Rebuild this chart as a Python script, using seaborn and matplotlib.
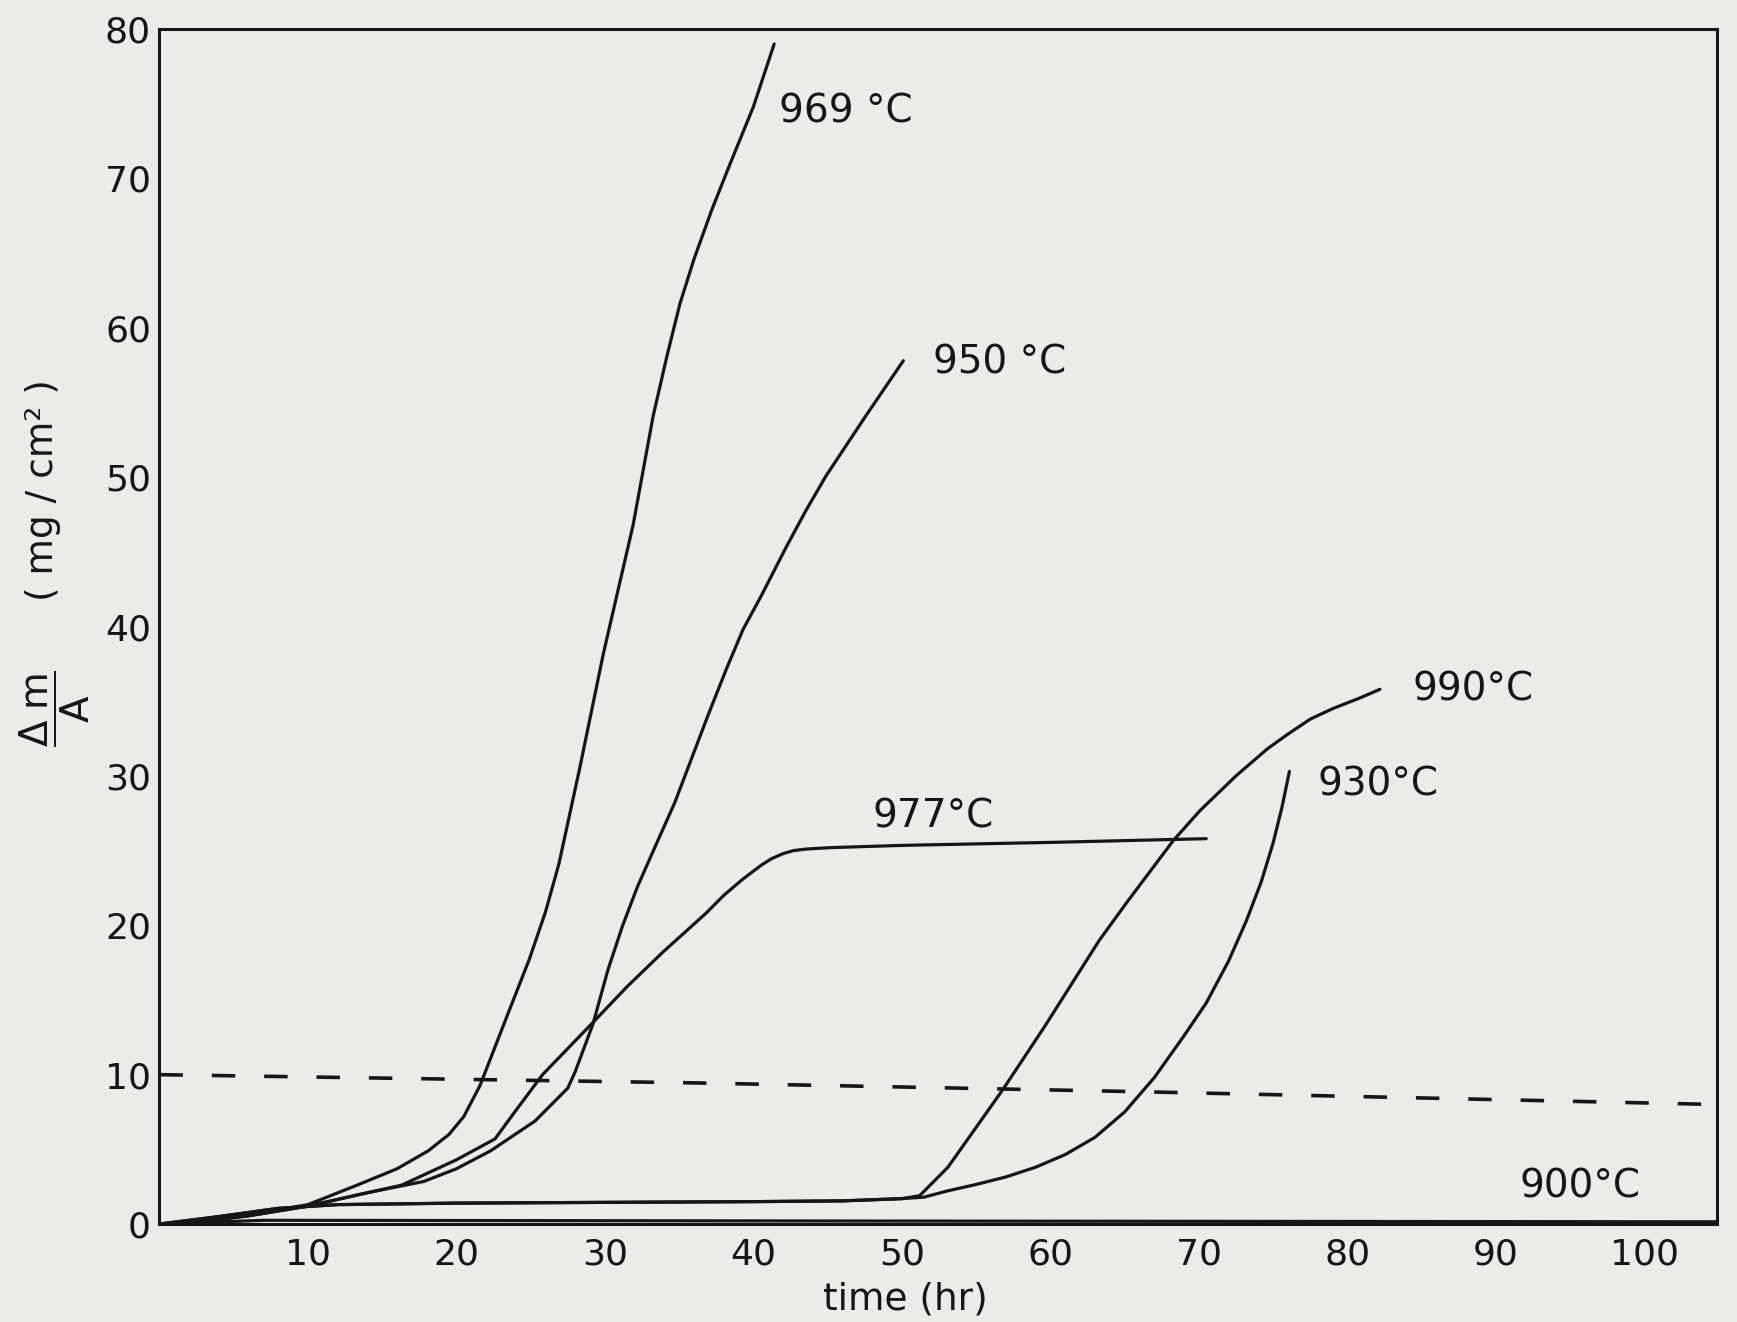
import matplotlib
matplotlib.use("Agg")
import matplotlib.pyplot as plt
import seaborn as sns

# weight gain curves
t_969 = [0, 3, 6, 10, 13.3, 16, 18.1, 19.5, 20.5, 21.6, 23.4, 24.9, 26, 26.9, 27.6, 28.3,
         29.9, 31.9, 33.25, 34.2, 35.05, 36, 37.2, 38.4, 40, 41.4]
dm_969 = [0, 0.2, 0.6, 1.3, 2.6, 3.7, 4.9, 6.0, 7.2, 9.3, 13.9, 17.7, 20.9, 24.1, 27.3, 30.5,
          38.2, 46.8, 54.1, 58.2, 61.6, 64.6, 67.9, 70.9, 74.8, 79]

t_950 = [0, 3, 6, 10, 14, 17.8, 20, 22.3, 25.3, 27.5, 28, 28.6, 29.2, 30.2, 31.2, 32.2, 33.4,
         34.7, 37, 38.2, 39.3, 40.5, 42.2, 43.5, 44.9, 47.5, 50.1]
dm_950 = [0, 0.2, 0.55, 1.2, 2.1, 2.85, 3.7, 4.9, 6.9, 9.1, 10.2, 11.8, 13.4, 17.0, 20.0, 22.6, 25.3,
          28.2, 34.2, 37.2, 39.8, 42.0, 45.3, 47.7, 50.1, 54.0, 57.8]

t_977 = [0, 3, 6, 10, 16.3, 20, 22.6, 24, 25.8, 29.2, 31.5, 33.9, 36.8, 38, 39.3, 40.5, 41.2, 42,
         42.7, 43.5, 45.2, 50, 60, 70.5]
dm_977 = [0, 0.2, 0.55, 1.2, 2.6, 4.3, 5.7, 7.6, 10, 13.5, 15.9, 18.2, 20.8, 22.0, 23.1, 24.0, 24.45, 24.8,
          25.0, 25.1, 25.2, 25.35, 25.55, 25.8]

t_990 = [0, 4, 8, 12, 20, 30, 40, 46, 50, 51.2, 53.1, 56.8, 59.6, 63.3, 65.2, 68.3, 70.1, 72.5,
         74.6, 76, 77.5, 79, 80.8, 82.2]
dm_990 = [0, 0.5, 1.05, 1.3, 1.4, 1.45, 1.5, 1.55, 1.7, 1.9, 3.8, 9.0, 13.2, 19.0, 21.6, 25.7, 27.7, 30.0,
          31.8, 32.8, 33.8, 34.5, 35.2, 35.8]

t_930 = [0, 4, 8, 12, 20, 30, 40, 46, 50, 51.5, 53, 55, 57, 59, 61, 63, 65, 67, 69, 70.5,
         72, 73.2, 74.2, 75, 75.6, 76.1]
dm_930 = [0, 0.5, 1.05, 1.3, 1.4, 1.45, 1.5, 1.55, 1.7, 1.8, 2.2, 2.65, 3.15, 3.8, 4.65, 5.8, 7.5, 9.8, 12.6, 14.8,
          17.6, 20.3, 22.9, 25.5, 27.9, 30.3]

t_900 = [0, 7, 50, 105]
dm_900 = [0, 0.25, 0.2, 0.15]

# dashed reference level
t_ref = [0, 36, 66, 105]
dm_ref = [10, 9.45, 8.86, 8.0]

labels = ["969 °C", "950 °C", "977°C", "990°C", "930°C", "900°C"]
label_x = [41.7, 52.1, 48.0, 84.4, 78.0, 91.6]
label_y = [74.5, 57.7, 27.3, 35.8, 29.4, 2.5]

sns.set_theme(style="white")
plt.rcParams['font.family'] = ['DejaVu Sans']
plt.rcParams['mathtext.fontset'] = 'dejavusans'

paper = '#ebebea'
ink = '#161616'

fig = plt.figure(figsize=(17.37, 13.22), dpi=100, facecolor=paper)
ax = fig.add_axes([0.0918, 0.0741, 0.8967, 0.9039])
ax.set_facecolor(paper)

for t, dm in [(t_969, dm_969), (t_950, dm_950), (t_977, dm_977),
              (t_990, dm_990), (t_930, dm_930), (t_900, dm_900)]:
    sns.lineplot(x=t, y=dm, ax=ax, color=ink, linewidth=2.3, sort=False, estimator=None)

sns.lineplot(x=t_ref, y=dm_ref, ax=ax, color=ink, linewidth=2.6, sort=False,
             estimator=None, linestyle=(0, (6.5, 8)))

for txt, x, y in zip(labels, label_x, label_y):
    ax.text(x, y, txt, fontsize=28, color=ink, ha='left', va='center')

ax.set_xlim(0, 104.9)
ax.set_ylim(0, 80)
ax.set_xticks(range(10, 101, 10))
ax.set_yticks(range(0, 81, 10))
ax.tick_params(direction='in', length=11, width=2, labelsize=26, colors=ink)
ax.tick_params(axis='x', pad=10)
ax.tick_params(axis='y', pad=6)
for s in ax.spines.values():
    s.set_visible(True)
    s.set_color(ink)
    s.set_linewidth(2.2)

ax.set_xlabel('time (hr)', fontsize=27, color=ink, va='top')
ax.xaxis.set_label_coords(0.4787, -0.048)
ax.set_ylabel('')

fig.text(0.0317, 0.4637, r'$\dfrac{\mathrm{\Delta\;m}}{\mathrm{A}}$', rotation=90, ha='center',
         va='center', fontsize=28, color=ink)
fig.text(0.0248, 0.6293, '( mg / cm² )', rotation=90, ha='center', va='center',
         fontsize=27, color=ink)

fig.savefig('out.png', dpi=100, facecolor=paper)
